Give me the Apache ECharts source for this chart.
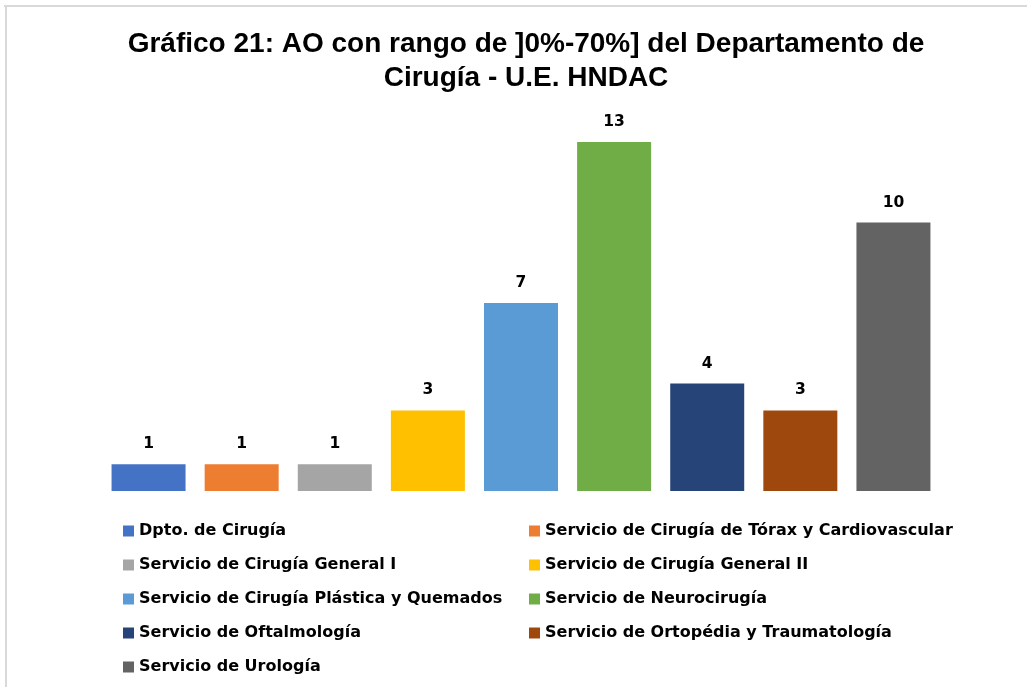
<!DOCTYPE html>
<html>
<head>
<meta charset="utf-8">
<script src="https://cdn.jsdelivr.net/npm/echarts@6/dist/echarts.min.js"></script>
<style>
html,body{margin:0;padding:0;background:#fff;}
#chart{width:1027px;height:687px;}
</style>
</head>
<body>
<div id="chart"></div>
<script>
const titleText = 'Gráfico 21: AO con rango de ]0%-70%] del Departamento de\nCirugía - U.E. HNDAC';
const seriesNames = [
  'Dpto. de Cirugía',
  'Servicio de Cirugía de Tórax y Cardiovascular',
  'Servicio de Cirugía General I',
  'Servicio de Cirugía General II',
  'Servicio de Cirugía Plástica y Quemados',
  'Servicio de Neurocirugía',
  'Servicio de Oftalmología',
  'Servicio de Ortopédia y Traumatología',
  'Servicio de Urología'
];
const values = [1, 1, 1, 3, 7, 13, 4, 3, 10];
const colors = ['#4472C4','#ED7D31','#A5A5A5','#FFC000','#5B9BD5','#70AD47','#264478','#9E480E','#636363'];

const chart = echarts.init(document.getElementById('chart'));
const series = seriesNames.map((name, i) => ({
  name: name,
  type: 'bar',
  stack: 'all',
  barWidth: 74,
  itemStyle: { color: colors[i] },
  label: {
    show: true, position: 'top', distance: 12,
    fontFamily: 'DejaVu Sans', fontWeight: 'bold', fontSize: 15.5, color: '#000',
    formatter: p => (p.value == null ? '' : String(p.value))
  },
  data: seriesNames.map((_, j) => (j === i ? values[i] : null))
}));
const legendText = { fontFamily: 'DejaVu Sans', fontWeight: 'bold', fontSize: 16, color: '#000', lineHeight: 16 };
chart.setOption({
  animation: false,
  backgroundColor: '#fff',
  title: {
    text: titleText, left: 521, top: 22, textAlign: 'center',
    textStyle: { fontFamily: 'Liberation Sans', fontWeight: 'bold', fontSize: 28, lineHeight: 34, color: '#000' }
  },
  graphic: [
    { type: 'line', shape: { x1: 4, y1: 6, x2: 1027, y2: 6 }, style: { stroke: '#d9d9d9', lineWidth: 2 } },
    { type: 'line', shape: { x1: 6, y1: 5, x2: 6, y2: 687 }, style: { stroke: '#d9d9d9', lineWidth: 2 } }
  ],
  legend: [
    { data: seriesNames.filter((_, i) => i % 2 === 0), orient: 'vertical', left: 123, top: 523, padding: 0,
      itemWidth: 11, itemHeight: 11, itemGap: 18, icon: 'rect', textStyle: legendText },
    { data: seriesNames.filter((_, i) => i % 2 === 1), orient: 'vertical', left: 529, top: 523, padding: 0,
      itemWidth: 11, itemHeight: 11, itemGap: 18, icon: 'rect', textStyle: legendText }
  ],
  grid: { left: 102, top: 142, width: 838, height: 349, containLabel: false },
  xAxis: { type: 'category', data: seriesNames, show: false },
  yAxis: { type: 'value', min: 0, max: 13, show: false, splitLine: { show: false } },
  series: series
});
</script>
</body>
</html>
